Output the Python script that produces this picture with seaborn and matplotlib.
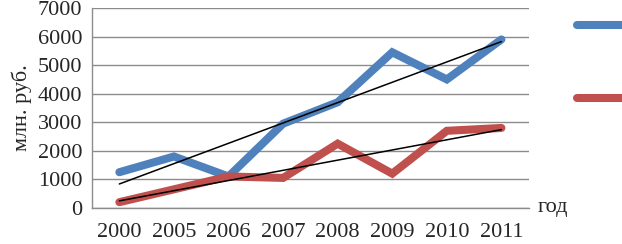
import numpy as np
import pandas as pd
import matplotlib
matplotlib.use("Agg")
import matplotlib.pyplot as plt
import seaborn as sns
from matplotlib.lines import Line2D
from matplotlib.ticker import FixedLocator

years = ["2000", "2005", "2006", "2007", "2008", "2009", "2010", "2011"]
series1 = [1250, 1800, 1100, 2950, 3700, 5450, 4500, 5900]
series2 = [200, 650, 1100, 1050, 2250, 1200, 2700, 2800]
yticks = [0, 1000, 2000, 3000, 4000, 5000, 6000, 7000]

blue = "#4F81BD"
red = "#C0504D"

sns.set_style("white")
plt.rcParams["font.family"] = ["Liberation Serif", "DejaVu Serif"]

pos = np.arange(len(years))
df = pd.DataFrame({
    "pos": np.concatenate([pos, pos]),
    "value": series1 + series2,
    "series": ["s1"] * len(years) + ["s2"] * len(years),
})

fig = plt.figure(figsize=(6.22, 2.44), dpi=100)
ax = fig.add_axes([0.148, 0.148, 0.702, 0.819])

sns.lineplot(data=df, x="pos", y="value", hue="series", palette=[blue, red],
             linewidth=5.8, ax=ax, legend=False, sort=False)
for lines in ax.get_lines():
    lines.set_solid_capstyle("round")
    lines.set_solid_joinstyle("miter")

for s in (series1, series2):
    k, b = np.polyfit(pos, s, 1)
    ax.plot(pos, k * pos + b, color="black", linewidth=1.1)

ax.set_xlim(-0.5, len(years) - 0.5)
ax.set_ylim(0, 7000)
ax.set_yticks(yticks)
ax.set_yticklabels([str(v) for v in yticks], fontsize=16)
ax.set_xticks(pos)
ax.set_xticklabels(years, fontsize=16)
ax.xaxis.set_minor_locator(FixedLocator(np.arange(-0.5, len(years), 1.0)))
ax.tick_params(axis="x", which="major", length=0, pad=11)
ax.tick_params(axis="x", which="minor", length=6, color="#888888", width=1, direction="out")
ax.tick_params(axis="y", which="major", length=5, color="#888888", width=1, direction="out", pad=2)
ax.yaxis.grid(True, color="#8c8c8c", linewidth=1)
ax.set_axisbelow(True)
for side in ("top", "right"):
    ax.spines[side].set_visible(False)
for side in ("left", "bottom"):
    ax.spines[side].set_color("#8c8c8c")
    ax.spines[side].set_linewidth(1)

ax.set_xlabel("")
ax.set_ylabel("млн. руб.", fontsize=16, labelpad=4)
ax.text(1.02, 0.0, "год", transform=ax.transAxes, fontsize=16, va="center", ha="left")

handles = [Line2D([], [], color=blue, linewidth=5.8, solid_capstyle="round"),
           Line2D([], [], color=red, linewidth=5.8, solid_capstyle="round")]
fig.legend(handles, ["", ""], loc="upper left", bbox_to_anchor=(0.928, 0.927),
           frameon=False, handlelength=2.9, labelspacing=2.86, fontsize=14,
           borderpad=0, borderaxespad=0, handletextpad=0.2)

fig.savefig("out.png", dpi=100)
